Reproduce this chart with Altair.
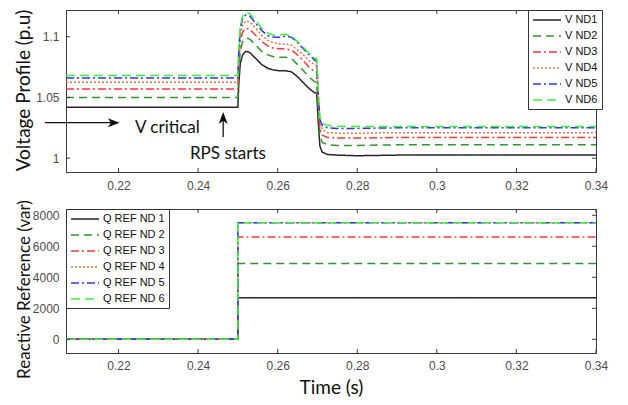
import altair as alt
import pandas as pd

# ---------------- data ----------------
X_MIN, X_MAX = 0.2068, 0.34
X_TICKS = [0.22, 0.24, 0.26, 0.28, 0.30, 0.32, 0.34]

V_NAMES = ["V ND1", "V ND2", "V ND3", "V ND4", "V ND5", "V ND6"]
Q_NAMES = ["Q REF ND 1", "Q REF ND 2", "Q REF ND 3", "Q REF ND 4", "Q REF ND 5", "Q REF ND 6"]

V_TIME = [0.2068, 0.2500, 0.2502, 0.2506, 0.2512, 0.2520, 0.2530, 0.2545, 0.2560,
          0.2575, 0.2590, 0.2605, 0.2620, 0.2635, 0.2650, 0.2665, 0.2680, 0.2692,
          0.2698, 0.2702, 0.2706, 0.2712, 0.2725, 0.2750, 0.2800, 0.2900, 0.3400]
V_ND1 = [1.042, 1.042, 1.060, 1.078, 1.085, 1.088, 1.087, 1.082, 1.077,
         1.074, 1.0725, 1.072, 1.072, 1.071, 1.067, 1.062, 1.057, 1.054,
         1.0535, 1.030, 1.010, 1.005, 1.003, 1.0025, 1.002, 1.0025, 1.0027]
V_ND2 = [1.050, 1.050, 1.069, 1.088, 1.096, 1.099, 1.098, 1.093, 1.088,
         1.085, 1.0835, 1.083, 1.083, 1.082, 1.077, 1.072, 1.0665, 1.063,
         1.0625, 1.040, 1.019, 1.013, 1.011, 1.0105, 1.0105, 1.011, 1.011]
V_ND3 = [1.057, 1.057, 1.077, 1.096, 1.104, 1.107, 1.106, 1.101, 1.096,
         1.0925, 1.0905, 1.090, 1.090, 1.089, 1.085, 1.080, 1.0745, 1.0715,
         1.071, 1.046, 1.024, 1.019, 1.017, 1.0165, 1.0165, 1.017, 1.017]
V_ND4 = [1.0625, 1.0625, 1.083, 1.102, 1.110, 1.113, 1.112, 1.107, 1.101,
         1.097, 1.095, 1.094, 1.094, 1.093, 1.089, 1.085, 1.080, 1.077,
         1.0765, 1.050, 1.028, 1.0235, 1.021, 1.0205, 1.0205, 1.021, 1.021]
V_ND5 = [1.066, 1.066, 1.087, 1.107, 1.115, 1.118, 1.117, 1.111, 1.105,
         1.101, 1.0995, 1.0995, 1.1005, 1.0995, 1.095, 1.090, 1.085, 1.081,
         1.080, 1.054, 1.032, 1.027, 1.025, 1.0245, 1.0245, 1.025, 1.025]
V_ND6 = [1.068, 1.068, 1.089, 1.109, 1.117, 1.120, 1.119, 1.113, 1.107,
         1.103, 1.1012, 1.1015, 1.102, 1.1005, 1.096, 1.091, 1.086, 1.0825,
         1.082, 1.056, 1.034, 1.029, 1.027, 1.0262, 1.026, 1.026, 1.026]
V_TICKS = [1.0, 1.05, 1.1]

Q_TIME = [0.2068, 0.2500, 0.2500, 0.3400]
Q_ND1 = [0, 0, 2680, 2680]
Q_ND2 = [0, 0, 4880, 4880]
Q_ND3 = [0, 0, 6600, 6600]
Q_ND4 = [0, 0, 7520, 7520]
Q_ND5 = [0, 0, 7520, 7520]
Q_ND6 = [0, 0, 7520, 7520]
Q_TICKS = [0, 2000, 4000, 6000, 8000]

# annotations (data coordinates of the top panel)
NOTE_TEXT = ["V critical", "RPS starts"]
NOTE_T = [0.2323, 0.2475]
NOTE_V = [1.0250, 1.0036]
HARROW_T = [0.2015, 0.2188]
HARROW_V = [1.0292, 1.0292]
VARROW_T = [0.2463, 0.2463]
VARROW_V = [1.0174, 1.0330]

# ---------------- styles ----------------
COLORS = ["#262626", "#2f972f", "#f03c3c", "#d4784a", "#3535f0", "#3cf03c"]
DASHES = [[1, 0], [8, 5], [8, 3, 2, 3], [2, 2], [8, 3, 2, 3], [9, 5]]
AX = "#3a3a3a"
TITLE_FONT = "Lato"
TICK_FONT = "Liberation Sans"
W = 530
H_TOP = 162
H_BOT = 144
TK = 4


def long_df(times, series, names):
    rows = []
    for name, vals in zip(names, series):
        for i, (t, v) in enumerate(zip(times, vals)):
            rows.append({"t": t, "v": v, "s": name, "i": i})
    return pd.DataFrame(rows)


v_df = long_df(V_TIME, [V_ND1, V_ND2, V_ND3, V_ND4, V_ND5, V_ND6], V_NAMES)
q_df = long_df(Q_TIME, [Q_ND1, Q_ND2, Q_ND3, Q_ND4, Q_ND5, Q_ND6], Q_NAMES)

x_scale = alt.Scale(domain=[X_MIN, X_MAX], nice=False, zero=False)
yv_scale = alt.Scale(domain=[0.9886, 1.122], nice=False, zero=False)
yq_scale = alt.Scale(domain=[-880, 8400], nice=False, zero=False)

SYM = "M-1,0L4.6,0"


def legend(x, y):
    return alt.Legend(title=None, orient="none", legendX=x, legendY=y,
                      symbolType=SYM, symbolSize=100, symbolStrokeWidth=1.5,
                      labelFont=TICK_FONT, labelFontSize=11, labelColor="#111111",
                      labelOffset=21, padding=4, rowPadding=5,
                      strokeColor="#333333", fillColor="white", cornerRadius=0)


def make_axes(yticks, yfmt, ytitle, title_y, title_size, xtitle):
    if xtitle:
        xaxis = alt.Axis(values=X_TICKS, format="~g", ticks=False, grid=False,
                         labelPadding=7, labelFlush=False, titlePadding=7, title=xtitle,
                         labelOverlap=False)
    else:
        xaxis = alt.Axis(values=X_TICKS, format="~g", ticks=False, grid=False,
                         labelPadding=8, labelFlush=False, title=None, labelOverlap=False)
    yaxis = alt.Axis(values=yticks, format=yfmt, ticks=False, grid=False,
                     labelPadding=7, labelOverlap=False, labelBound=False, title=ytitle,
                     titleX=-33, titleY=title_y, titleFontSize=title_size)
    return xaxis, yaxis


def panel(df, names, yscale, axes, yticks, H, leg):
    xaxis, yaxis = axes
    lines = alt.Chart(df).mark_line(strokeWidth=1.5).encode(
        x=alt.X("t:Q", scale=x_scale, axis=xaxis),
        y=alt.Y("v:Q", scale=yscale, axis=yaxis),
        color=alt.Color("s:N", scale=alt.Scale(domain=names, range=COLORS), legend=leg),
        strokeDash=alt.StrokeDash("s:N", scale=alt.Scale(domain=names, range=DASHES), legend=leg),
        order="i:Q",
    )
    xt = pd.DataFrame({"t": X_TICKS})
    yt = pd.DataFrame({"v": yticks})
    rule = dict(color=AX, strokeWidth=1)
    top_t = alt.Chart(xt).mark_rule(**rule).encode(
        x=alt.X("t:Q", scale=x_scale, axis=xaxis), y=alt.value(0), y2=alt.value(TK))
    bot_t = alt.Chart(xt).mark_rule(**rule).encode(
        x=alt.X("t:Q", scale=x_scale, axis=xaxis), y=alt.value(H - TK), y2=alt.value(H))
    left_t = alt.Chart(yt).mark_rule(**rule).encode(
        y=alt.Y("v:Q", scale=yscale, axis=yaxis), x=alt.value(0), x2=alt.value(TK))
    right_t = alt.Chart(yt).mark_rule(**rule).encode(
        y=alt.Y("v:Q", scale=yscale, axis=yaxis), x=alt.value(W - TK), x2=alt.value(W))
    return [lines, top_t, bot_t, left_t, right_t]


top_axes = make_axes(V_TICKS, "~g", "Voltage Profile (p.u)", 80, 19, None)
top_layers = panel(v_df, V_NAMES, yv_scale, top_axes, V_TICKS, H_TOP, legend(462, 0))
tx, ty = top_axes

h_df = pd.DataFrame({"t": HARROW_T, "v": HARROW_V, "i": [0, 1]})
v_arrow_df = pd.DataFrame({"t": VARROW_T, "v": VARROW_V, "i": [0, 1]})
hline = alt.Chart(h_df).mark_line(color="#111111", strokeWidth=1.3).encode(
    x=alt.X("t:Q", scale=x_scale, axis=tx), y=alt.Y("v:Q", scale=yv_scale, axis=ty), order="i:Q")
vline = alt.Chart(v_arrow_df).mark_line(color="#111111", strokeWidth=1.3).encode(
    x=alt.X("t:Q", scale=x_scale, axis=tx), y=alt.Y("v:Q", scale=yv_scale, axis=ty), order="i:Q")
head_r = alt.Chart(h_df.iloc[[1]]).mark_point(
    shape="M1,0L-1,-0.75L-0.45,0L-1,0.75Z", size=144, filled=True, color="#111111", opacity=1
).encode(x=alt.X("t:Q", scale=x_scale, axis=tx), y=alt.Y("v:Q", scale=yv_scale, axis=ty))
head_u = alt.Chart(v_arrow_df.iloc[[1]]).mark_point(
    shape="M0,-1L-0.75,1L0,0.45L0.75,1Z", size=144, filled=True, color="#111111", opacity=1
).encode(x=alt.X("t:Q", scale=x_scale, axis=tx), y=alt.Y("v:Q", scale=yv_scale, axis=ty))
notes_df = pd.DataFrame({"t": NOTE_T, "v": NOTE_V, "txt": NOTE_TEXT})
notes = alt.Chart(notes_df).mark_text(font=TITLE_FONT, fontSize=17, color="#111111",
                                      align="center", baseline="middle").encode(
    x=alt.X("t:Q", scale=x_scale, axis=tx), y=alt.Y("v:Q", scale=yv_scale, axis=ty),
    text="txt:N")

top = alt.layer(*top_layers, hline, vline, head_r, head_u, notes).properties(width=W, height=H_TOP)

bot_axes = make_axes(Q_TICKS, "d", "Reactive Reference (var)", 80, 17, "Time (s)")
bot_layers = panel(q_df, Q_NAMES, yq_scale, bot_axes, Q_TICKS, H_BOT, legend(0, 0))
bottom = alt.layer(*bot_layers).properties(width=W, height=H_BOT)

chart = alt.vconcat(top, bottom, spacing=7).resolve_scale(
    color="independent", strokeDash="independent", x="independent", y="independent"
).resolve_legend(color="independent", strokeDash="independent").properties(
    padding={"left": 5, "top": 0, "right": 0, "bottom": 0}, background="white"
).configure_view(stroke=AX, strokeWidth=1).configure_axis(
    domainColor=AX, domainWidth=1, labelFont=TICK_FONT, labelFontSize=12,
    labelColor="#4d4d4d", titleFont=TITLE_FONT, titleFontSize=19,
    titleFontWeight="normal", titleColor="#111111", labelOverlap=False
)

chart.save("out.html", embed_options={"renderer": "svg", "actions": False})
